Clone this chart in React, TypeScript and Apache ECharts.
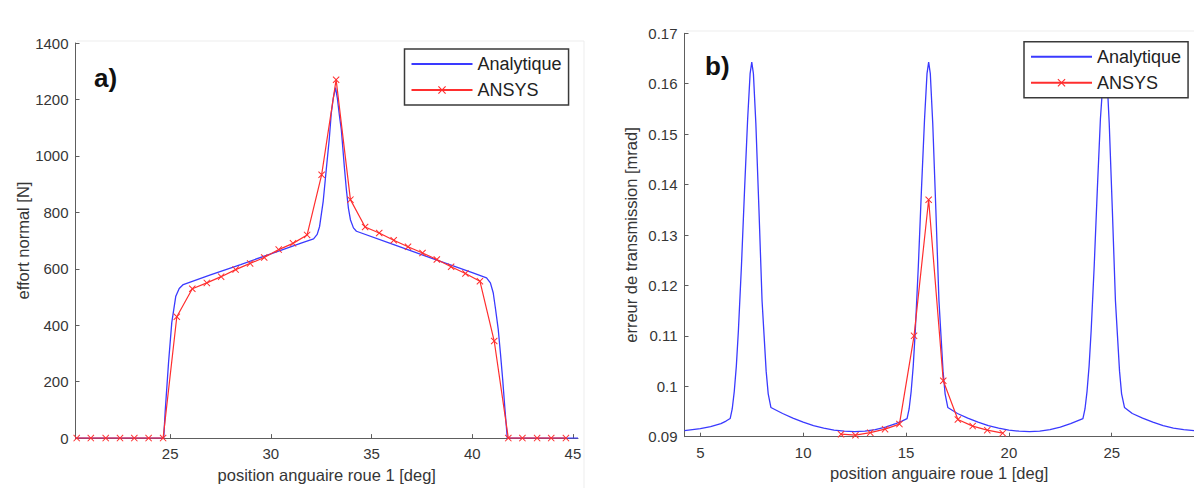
import React, { useEffect, useRef } from "react";
import * as echarts from "echarts";

// ---------- Panel a) effort normal [N] ----------
const aAnaX = [20.3, 24.68, 24.75, 24.92, 25.08, 25.28, 25.45, 25.65, 27, 28.5, 30, 31.5, 32.12, 32.3, 32.42, 32.6, 32.75, 32.9, 33.0, 33.1, 33.21, 33.3, 33.4, 33.5, 33.65, 33.75, 33.85, 33.95, 34.1, 34.25, 36, 38, 40, 40.71, 40.9, 41.04, 41.15, 41.29, 41.4, 41.51, 41.62, 41.74, 45.25];
const aAnaY = [0, 0, 91, 268, 409, 503, 530, 544, 578, 615, 653, 691, 706, 722, 750, 840, 951, 1060, 1151, 1205, 1242, 1205, 1145, 1092, 960, 880, 815, 774, 745, 733, 688, 637, 586, 568, 550, 515, 460, 385, 300, 208, 105, 0, 0];

const aAnsX = [20.36, 21.06, 21.8, 22.51, 23.22, 23.93, 24.65, 25.33, 26.1, 26.82, 27.53, 28.25, 28.97, 29.67, 30.39, 31.1, 31.8, 32.52, 33.24, 33.95, 34.68, 35.38, 36.1, 36.81, 37.53, 38.24, 38.95, 39.66, 40.38, 41.09, 41.79, 42.49, 43.22, 43.92, 44.65];
const aAnsY = [0, 0, 0, 0, 0, 0, 0, 430, 529, 550, 572, 597, 619, 640, 668, 690, 720, 933, 1270, 845, 748, 727, 701, 678, 656, 633, 607, 583, 556, 344, 0, 0, 0, 0, 0];

const aXTicks = [25, 30, 35, 40, 45];
const aYTicks = [0, 200, 400, 600, 800, 1000, 1200, 1400];

// ---------- Panel b) erreur de transmission [mrad] ----------
const bAnaX = [
  4.23, 5, 5.5, 6, 6.25, 6.45, 6.55, 6.65, 6.75, 6.85, 7.0, 7.15, 7.3, 7.42, 7.5, 7.58, 7.7, 7.85, 8.0, 8.1, 8.2, 8.3, 8.43,
  9, 9.5, 10, 10.5, 11, 11.5, 12, 12.5, 13, 13.5, 14, 14.5, 14.8,
  15.05, 15.15, 15.25, 15.35, 15.45, 15.6, 15.75, 15.9, 16.02, 16.1, 16.18, 16.3, 16.45, 16.6, 16.7, 16.8, 16.9, 17.03,
  17.5, 18, 18.5, 19, 19.5, 20, 20.5, 21, 21.5, 22, 22.5, 23, 23.3,
  23.6, 23.7, 23.8, 23.9, 24.0, 24.15, 24.3, 24.45, 24.6, 24.68, 24.76, 24.88, 25.03, 25.18, 25.28, 25.38, 25.48, 25.62,
  26, 26.5, 27, 27.5, 28, 28.5, 29.0,
];
const bAnaY = [
  0.0912, 0.0916, 0.092, 0.0926, 0.0931, 0.0936, 0.0955, 0.099, 0.104, 0.111, 0.124, 0.139, 0.153, 0.162, 0.1643, 0.162, 0.152, 0.135, 0.117, 0.11, 0.103, 0.0985, 0.0958,
  0.0946, 0.0937, 0.0929, 0.0922, 0.0917, 0.0913, 0.0911, 0.091, 0.0911, 0.0914, 0.0919, 0.0926, 0.0931,
  0.0936, 0.0955, 0.099, 0.104, 0.111, 0.124, 0.139, 0.153, 0.162, 0.1643, 0.162, 0.152, 0.135, 0.117, 0.11, 0.103, 0.0985, 0.0958,
  0.0946, 0.0937, 0.0929, 0.0922, 0.0917, 0.0913, 0.0911, 0.091, 0.0911, 0.0914, 0.0919, 0.0926, 0.0931,
  0.0936, 0.0955, 0.099, 0.104, 0.111, 0.124, 0.139, 0.153, 0.162, 0.1643, 0.162, 0.152, 0.135, 0.117, 0.11, 0.103, 0.0985, 0.0958,
  0.0946, 0.0937, 0.0929, 0.0922, 0.0917, 0.0914, 0.0912,
];

const bAnsX = [11.84, 12.54, 13.26, 13.98, 14.68, 15.39, 16.1, 16.81, 17.52, 18.24, 18.95, 19.7];
const bAnsY = [0.0905, 0.0903, 0.0908, 0.0915, 0.0925, 0.11, 0.137, 0.1011, 0.0934, 0.0921, 0.0913, 0.0907];

const bXTicks = [5, 10, 15, 20, 25];
const bYTicks = [0.09, 0.1, 0.11, 0.12, 0.13, 0.14, 0.15, 0.16, 0.17];

const seriesNames = ["Analytique", "ANSYS"];
const panelLabels = ["a)", "b)"];
const xTitle = "position anguaire roue 1 [deg]";
const yTitles = ["effort normal [N]", "erreur de transmission [mrad]"];

const BLUE = "#3a3aff";
const RED = "#ff2e2e";
const AXIS = "#5e5e5e";
const TXT = "#363636";
const FONT = "Liberation Sans";
const CROSS = "path://M0,1 L1,0 L5,4 L9,0 L10,1 L6,5 L10,9 L9,10 L5,6 L1,10 L0,9 L4,5 Z";

const zip = (xs: number[], ys: number[]) => xs.map((x, i) => [x, ys[i]]);

function xAxis(grid: number, min: number, max: number, ticks: number[]) {
  return {
    type: "value",
    gridIndex: grid,
    min,
    max,
    name: xTitle,
    nameLocation: "middle",
    nameGap: 22,
    nameTextStyle: { fontSize: 16.5, color: TXT, fontFamily: FONT },
    axisLine: { show: true, onZero: false, lineStyle: { color: AXIS, width: 1 } },
    axisTick: { show: true, inside: true, length: 4, customValues: ticks, lineStyle: { color: AXIS } },
    axisLabel: { customValues: ticks, fontSize: 15, color: TXT, fontFamily: FONT, margin: 8, formatter: (v: number) => String(v) },
    splitLine: { show: false },
  };
}

function yAxis(grid: number, min: number, max: number, ticks: number[], name: string, gap: number) {
  return {
    type: "value",
    gridIndex: grid,
    min,
    max,
    name,
    nameLocation: "middle",
    nameGap: gap,
    nameTextStyle: { fontSize: 16.5, color: TXT, fontFamily: FONT },
    axisLine: { show: true, onZero: false, lineStyle: { color: AXIS, width: 1 } },
    axisTick: { show: true, inside: true, length: 4, customValues: ticks, lineStyle: { color: AXIS } },
    axisLabel: {
      customValues: ticks, fontSize: 15, color: TXT, fontFamily: FONT, margin: 7,
      formatter: (v: number) => String(Math.round(v * 100) / 100),
    },
    splitLine: { show: false },
  };
}

function legend(left: number, top: number) {
  return {
    left,
    top,
    orient: "vertical",
    data: [
      { name: seriesNames[0], itemStyle: { opacity: 0 } },
      { name: seriesNames[1] },
    ],
    backgroundColor: "#ffffff",
    borderColor: "#3a3a3a",
    borderWidth: 1.5,
    borderRadius: 0,
    padding: [6, 7, 6, 6],
    itemGap: 8,
    itemWidth: 61,
    itemHeight: 10,
    selectedMode: false,
    textStyle: { fontSize: 18, color: "#222", fontFamily: FONT },
  };
}

const option = {
  animation: false,
  backgroundColor: "#ffffff",
  textStyle: { fontFamily: FONT },
  grid: [
    { left: 75.5, top: 43, width: 502.5, height: 396 },
    { left: 684.5, top: 33.3, width: 509.5, height: 403.4 },
  ],
  xAxis: [xAxis(0, 20.3, 45.25, aXTicks), xAxis(1, 4.23, 29.0, bXTicks)],
  yAxis: [
    yAxis(0, 0, 1400, aYTicks, yTitles[0], 30),
    yAxis(1, 0.09, 0.17, bYTicks, yTitles[1], 45),
  ],
  legend: [legend(404.5, 49), legend(1024, 41.7)],
  graphic: [
    { type: "line", silent: true, shape: { x1: 77, y1: 41, x2: 584, y2: 41 }, style: { stroke: "#ededed", lineWidth: 1 } },
    { type: "line", silent: true, shape: { x1: 584, y1: 41, x2: 584, y2: 488 }, style: { stroke: "#ededed", lineWidth: 1 } },
    { type: "line", silent: true, shape: { x1: 686, y1: 31, x2: 1194, y2: 31 }, style: { stroke: "#ededed", lineWidth: 1 } },
    { type: "text", left: 94, top: 65, style: { text: panelLabels[0], fontSize: 26, fontWeight: "bold", fill: "#111", fontFamily: FONT } },
    { type: "text", left: 705, top: 53, style: { text: panelLabels[1], fontSize: 26, fontWeight: "bold", fill: "#111", fontFamily: FONT } },
  ],
  series: [
    {
      name: seriesNames[0], type: "line", xAxisIndex: 0, yAxisIndex: 0,
      data: zip(aAnaX, aAnaY), showSymbol: false, symbol: "none", smooth: false,
      lineStyle: { color: BLUE, width: 1.3 }, itemStyle: { color: BLUE },
    },
    {
      name: seriesNames[1], type: "line", xAxisIndex: 0, yAxisIndex: 0,
      data: zip(aAnsX, aAnsY), symbol: CROSS, symbolSize: 7, showSymbol: true, showAllSymbol: true,
      lineStyle: { color: RED, width: 1.2 }, itemStyle: { color: RED },
    },
    {
      name: seriesNames[0], type: "line", xAxisIndex: 1, yAxisIndex: 1,
      data: zip(bAnaX, bAnaY), showSymbol: false, symbol: "none", smooth: false,
      lineStyle: { color: BLUE, width: 1.3 }, itemStyle: { color: BLUE },
    },
    {
      name: seriesNames[1], type: "line", xAxisIndex: 1, yAxisIndex: 1,
      data: zip(bAnsX, bAnsY), symbol: CROSS, symbolSize: 7, showSymbol: true, showAllSymbol: true,
      lineStyle: { color: RED, width: 1.2 }, itemStyle: { color: RED },
    },
  ],
};

export default function App() {
  const ref = useRef<HTMLDivElement>(null);
  useEffect(() => {
    if (!ref.current) return;
    const chart = echarts.init(ref.current, null, { renderer: "svg" });
    chart.setOption(option as any);
    return () => chart.dispose();
  }, []);
  return (
    <div
      ref={ref}
      style={{ position: "absolute", left: 0, top: 0, width: 1194, height: 488, background: "#ffffff" }}
    />
  );
}
